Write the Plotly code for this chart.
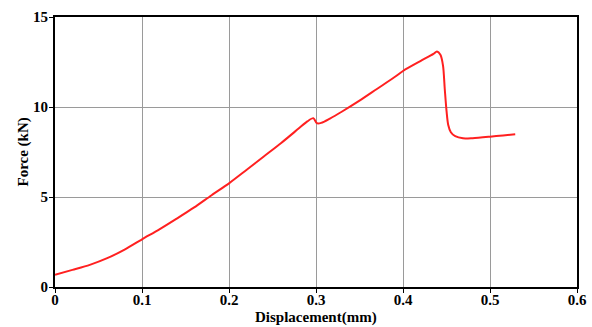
import plotly.graph_objects as go

# Load-displacement record of the specimen
displacement_mm = [0.0, 0.02, 0.04, 0.06, 0.08, 0.10, 0.12, 0.14, 0.16, 0.18, 0.20,
                   0.22, 0.24, 0.26, 0.28, 0.29, 0.297, 0.301, 0.306, 0.316, 0.33,
                   0.35, 0.37, 0.39, 0.40, 0.42, 0.435, 0.439, 0.443, 0.446, 0.448,
                   0.450, 0.452, 0.455, 0.46, 0.469, 0.48, 0.50, 0.515, 0.529]
force_kn = [0.68, 0.95, 1.23, 1.6, 2.08, 2.65, 3.2, 3.8, 4.42, 5.1, 5.76,
            6.5, 7.25, 8.0, 8.8, 9.2, 9.38, 9.1, 9.12, 9.36, 9.75,
            10.35, 11.0, 11.65, 12.0, 12.55, 12.95, 13.09, 12.9, 12.3, 11.0,
            9.8, 9.0, 8.6, 8.38, 8.26, 8.27, 8.35, 8.42, 8.48]

x_ticks = [0, 0.1, 0.2, 0.3, 0.4, 0.5, 0.6]
y_ticks = [0, 5, 10, 15]

x_title = "Displacement(mm)"
y_title = "Force (kN)"

font_family = "Liberation Serif"
title_font = dict(family=font_family, size=15, color="black", weight="bold")

fig = go.Figure(
    go.Scatter(
        x=displacement_mm,
        y=force_kn,
        mode="lines",
        line=dict(color="#ff2020", width=2, shape="spline", smoothing=0.8),
        showlegend=False,
    )
)

axis_common = dict(
    showline=True,
    linecolor="black",
    linewidth=2,
    mirror=True,
    showgrid=True,
    gridcolor="#9a9a9a",
    gridwidth=1,
    zeroline=False,
    ticks="outside",
    ticklen=4,
    tickcolor="black",
    automargin=False,
    tickfont=dict(family=font_family, size=15, color="black", weight="bold"),
)

fig.update_xaxes(
    range=[0, 0.6],
    tickvals=x_ticks,
    ticktext=[f"{v:g}" for v in x_ticks],
    ticklabelstandoff=-6,
    **axis_common,
)
fig.update_yaxes(
    range=[0, 15],
    tickvals=y_ticks,
    ticklabelstandoff=-2,
    **axis_common,
)

# Axis titles placed as annotations relative to the plot area
fig.add_annotation(text=x_title, xref="paper", yref="paper", x=0.5, y=0,
                   xanchor="center", yanchor="top", yshift=-20,
                   showarrow=False, font=title_font)
fig.add_annotation(text=y_title, xref="paper", yref="paper", x=0, y=0.5,
                   xanchor="right", yanchor="middle", xshift=-22, textangle=-90,
                   showarrow=False, font=title_font)

fig.update_layout(
    width=592,
    height=327,
    margin=dict(l=55, r=15, t=17, b=40),
    paper_bgcolor="white",
    plot_bgcolor="white",
)

fig.write_html("out.html")
